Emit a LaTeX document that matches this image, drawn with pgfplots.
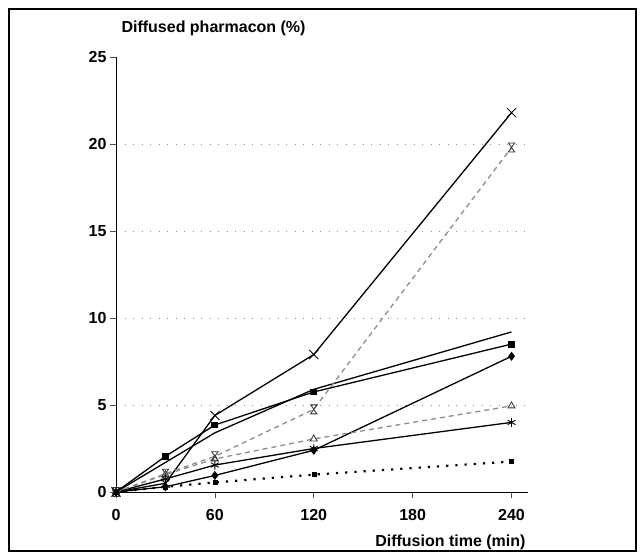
\documentclass[border=0pt]{standalone}
\usepackage{fontspec}
\setmainfont{Liberation Sans}
\usepackage{pgfplots}
\pgfplotsset{compat=1.18}

% hourglass marker (two triangles tip to tip)
\pgfdeclareplotmark{hourglass}{%
  \pgfpathmoveto{\pgfqpoint{-0.7\pgfplotmarksize}{\pgfplotmarksize}}%
  \pgfpathlineto{\pgfqpoint{0.7\pgfplotmarksize}{\pgfplotmarksize}}%
  \pgfpathlineto{\pgfqpoint{-0.7\pgfplotmarksize}{-\pgfplotmarksize}}%
  \pgfpathlineto{\pgfqpoint{0.7\pgfplotmarksize}{-\pgfplotmarksize}}%
  \pgfpathclose
  \pgfusepathqstroke}

\begin{document}
\begin{tikzpicture}
\begin{axis}[
    name=ax,
    scale only axis,
    width=412pt, height=435pt,
    xmin=0, xmax=250, ymin=0, ymax=25,
    xtick={0,60,120,180,240},
    ytick={0,5,10,15,20},
    extra y ticks={25}, extra y tick style={grid=none},
    axis x line*=bottom, axis y line*=left,
    axis line style={-, black, line width=0.8pt},
    tick align=outside, major tick length=6pt,
    tick style={black!70, line width=0.6pt},
    ymajorgrids,
    grid style={black!45, line width=0.8pt, dash pattern=on 1pt off 7.5pt},
    /pgf/number format/assume math mode=true,
    xticklabel style={font=\bfseries\fontsize{16}{18}\selectfont, yshift=-8pt},
    yticklabel style={font=\bfseries\fontsize{16}{18}\selectfont},
    xlabel={Diffusion time (min)},
    ylabel={Diffused pharmacon (\%)},
    label style={font=\bfseries\fontsize{16}{18}\selectfont},
    xlabel style={at={(axis description cs:1,0)}, anchor=east, yshift=-50pt, xshift=1pt},
    ylabel style={at={(axis description cs:0,1)}, anchor=west, rotate=-90, yshift=29pt, xshift=2pt},
    clip=false,
    every axis plot/.append style={line width=1.3pt},
]
% x marker, solid
\addplot[black, mark=x, mark size=6.4pt, mark options={line width=0.8pt}] coordinates {
(0,0)(30,0.5)(60,4.4)(120,7.9)(240,21.8)};
% plain solid
\addplot[black, mark=none] coordinates {
(0,0)(30,1.7)(60,3.4)(120,5.9)(240,9.2)};
% filled squares
\addplot[black, mark=square*, mark size=2.8pt] coordinates {
(0,0)(30,2.05)(60,3.85)(120,5.75)(240,8.5)};
% filled diamonds
\addplot[black, mark=diamond*, mark size=3.5pt] coordinates {
(0,0)(30,0.3)(60,0.95)(120,2.4)(240,7.8)};
% asterisks
\addplot[black, mark=asterisk, mark size=4.5pt, mark options={line width=0.9pt}] coordinates {
(0,0)(30,0.75)(60,1.55)(120,2.5)(240,4.0)};
% open triangles, grey dashed
\addplot[black!45, dash pattern=on 5pt off 4pt, mark=triangle, mark size=4pt,
    mark options={solid, black!80, line width=0.8pt}] coordinates {
(0,0)(30,1.0)(60,1.9)(120,3.05)(240,4.95)};
% hourglass, grey dashed
\addplot[black!45, dash pattern=on 5pt off 4pt, mark=hourglass, mark size=4.5pt,
    mark options={solid, black!80, line width=0.8pt}] coordinates {
(0,0)(30,1.05)(60,2.05)(120,4.75)(240,19.8)};
% dotted, small squares
\addplot[black, line width=2.2pt, dash pattern=on 2.2pt off 7pt, mark=square*, mark size=2pt,
    mark options={solid, line width=0.4pt}] coordinates {
(0,0)(30,0.3)(60,0.55)(120,1.0)(240,1.75)};
\end{axis}
\draw[line width=2.6pt] ([shift={(-107pt,-59pt)}]ax.south west) rectangle ([shift={(520pt,483pt)}]ax.south west);
\path ([shift={(-116pt,-67pt)}]ax.south west) rectangle ([shift={(528pt,492pt)}]ax.south west);
\end{tikzpicture}
\end{document}
